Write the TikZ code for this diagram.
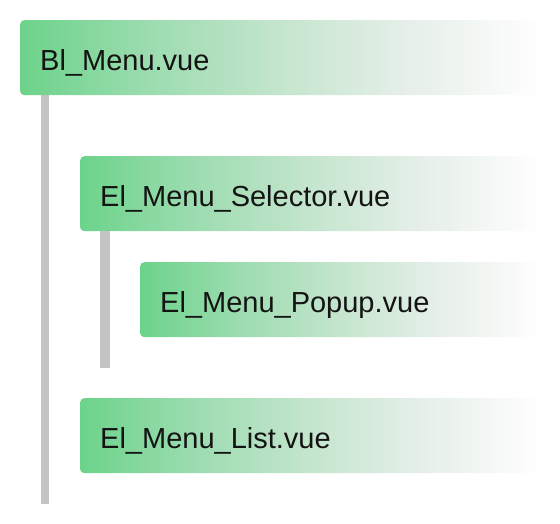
\documentclass[tikz,border=0pt]{standalone}
\usepackage{fontspec}
\setmainfont{Liberation Sans}
\definecolor{gA}{HTML}{6CD38A}
\definecolor{gB}{HTML}{9CDCB0}
\definecolor{gC}{HTML}{C4E5CD}
\definecolor{gD}{HTML}{E6EFE9}
\definecolor{gE}{HTML}{FEFEFE}
\definecolor{barcol}{HTML}{C4C4C4}
\definecolor{txt}{HTML}{141414}
\pgfdeclarehorizontalshading{boxfade}{100bp}{color(0bp)=(gA); color(25bp)=(gA); color(37.5bp)=(gB); color(50bp)=(gC); color(62.5bp)=(gD); color(75bp)=(gE); color(100bp)=(gE)}
\tikzset{
  filebox/.style={anchor=north west, shading=boxfade, rounded corners=4pt,
    minimum height=75pt, inner xsep=20pt, inner ysep=0pt, align=left,
    text height=25pt, text depth=0pt, text=txt,
    font=\fontsize{29pt}{34pt}\selectfont},
  treebar/.style={draw=barcol, line cap=butt},
}
\begin{document}
\begin{tikzpicture}[x=1pt,y=-1pt]
\useasboundingbox (0,0) rectangle (560,524);
\node[filebox, text width=478pt] (b1) at (20,20) {Bl\_Menu.vue};
\node[filebox, text width=418pt] (b2) at (80,156) {El\_Menu\_Selector.vue};
\node[filebox, text width=358pt] (b3) at (140,262) {El\_Menu\_Popup.vue};
\node[filebox, text width=418pt] (b4) at (80,398) {El\_Menu\_List.vue};
\coordinate (e1) at (45,504);
\coordinate (e2) at (105,368);
\draw[treebar, line width=8pt] ([xshift=25pt]b1.south west) -- (e1);
\draw[treebar, line width=10pt] ([xshift=25pt]b2.south west) -- (e2);
\end{tikzpicture}
\end{document}
